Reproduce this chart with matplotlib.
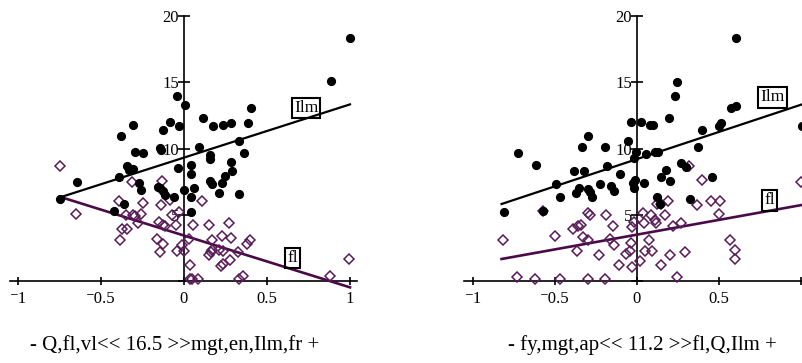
import matplotlib
matplotlib.use("Agg")
import matplotlib.pyplot as plt
from matplotlib.ticker import FixedLocator, FixedFormatter

plt.rcParams['font.family'] = ['Liberation Serif', 'DejaVu Serif']

# ---------------- data ----------------
x_ticks = [-1, -0.5, 0, 0.5, 1]
left_x_tick_labels = ["\u207b1", "\u207b0.5", "0", "0.5", "1"]
right_x_tick_labels = ["\u207b1", "\u207b0.5", "0", "0.5", ""]
y_ticks = [0, 5, 10, 15, 20]
y_tick_labels = ["", "5", "10", "15", "20"]

# Left panel
left_ilm_x = [-0.749, -0.646, -0.42, -0.382, -0.39, -0.362, -0.346, -0.334, -0.31, -0.31,
              -0.296, -0.272, -0.258, -0.248, -0.159, -0.145, -0.139, -0.125, -0.125, -0.113,
              -0.082, -0.062, -0.044, -0.036, -0.028, -0.002, 0.008, 0.042, 0.042, 0.042,
              0.042, 0.062, 0.089, 0.113, 0.159, 0.159, 0.159, 0.169, 0.177, 0.211,
              0.231, 0.237, 0.247, 0.282, 0.282, 0.292, 0.334, 0.334, 0.36, 0.388,
              0.406, 0.883, 0.998, -0.145]
left_ilm_y = [6.19, 7.45, 5.28, 10.97, 7.87, 5.79, 8.68, 8.38, 8.43, 11.75,
              9.76, 7.37, 6.87, 9.64, 7.12, 10.01, 9.91, 11.42, 6.82, 6.47,
              11.97, 6.34, 13.96, 8.55, 11.72, 6.87, 13.26, 8.73, 8.08, 6.31,
              5.21, 6.99, 10.09, 12.28, 9.51, 9.18, 7.55, 7.35, 11.72, 6.67,
              7.37, 11.75, 7.92, 8.96, 11.95, 8.33, 10.54, 6.57, 9.64, 11.95,
              13.06, 15.07, 18.37, 7.0]
left_fl_x = [-0.749, -0.65, -0.392, -0.384, -0.372, -0.346, -0.35, -0.316, -0.306, -0.294,
             -0.28, -0.26, -0.249, -0.163, -0.149, -0.145, -0.139, -0.131, -0.125, -0.125,
             -0.113, -0.085, -0.07, -0.05, -0.044, -0.032, -0.01, 0.002, 0.032, 0.036,
             0.036, 0.046, 0.056, 0.082, 0.109, 0.151, 0.151, 0.161, 0.171, 0.169,
             0.209, 0.229, 0.225, 0.237, 0.233, 0.274, 0.278, 0.286, 0.326, 0.33,
             0.358, 0.38, 0.398, 0.877, 0.994]
left_fl_y = [8.70, 5.08, 6.04, 3.12, 3.95, 3.92, 4.98, 7.50, 4.98, 4.91,
             4.38, 5.08, 5.86, 3.14, 4.48, 2.21, 5.74, 7.55, 2.79, 4.20,
             4.18, 6.11, 4.98, 4.20, 2.26, 5.18, 2.74, 2.29, 3.14, 1.21,
             0.13, 0.13, 4.20, 0.13, 6.06, 4.20, 1.96, 2.21, 3.09, 2.36,
             2.34, 3.42, 1.11, 1.26, 2.29, 4.40, 1.61, 3.27, 2.16, 0.13,
             0.35, 2.82, 3.09, 0.35, 1.66]
left_ilm_line_x = [-0.75, 1.0]
left_ilm_line_y = [6.3, 13.33]
left_fl_line_x = [-0.749, 1.0]
left_fl_line_y = [6.36, -0.48]
left_caption = "- Q,fl,vl<< 16.5 >>mgt,en,Ilm,fr +"

# Right panel
right_ilm_x = [-0.813, -0.724, -0.617, -0.576, -0.495, -0.467, -0.387, -0.369, -0.353, -0.333,
               -0.325, -0.298, -0.296, -0.288, -0.272, -0.227, -0.193, -0.183, -0.156, -0.14,
               -0.103, -0.057, -0.034, -0.024, -0.02, -0.018, -0.014, -0.004, 0.024, 0.041,
               0.057, 0.077, 0.097, 0.108, 0.122, 0.128, 0.138, 0.148, 0.174, 0.193,
               0.203, 0.231, 0.243, 0.27, 0.296, 0.325, 0.371, 0.398, 0.458, 0.503,
               0.515, 0.574, 0.602, 0.602, 1.006]
right_ilm_y = [5.21, 9.64, 8.75, 5.28, 7.32, 6.31, 8.30, 6.62, 6.99, 10.09,
               8.30, 10.97, 6.92, 6.74, 6.31, 7.32, 10.09, 8.70, 7.17, 6.82,
               8.08, 10.57, 11.97, 7.37, 6.99, 9.31, 7.62, 9.76, 11.97, 7.42,
               9.56, 11.77, 11.77, 9.76, 6.36, 9.76, 5.81, 7.87, 8.38, 12.28,
               7.55, 13.96, 15.04, 8.93, 8.63, 6.21, 10.09, 11.40, 7.87, 11.70,
               11.95, 13.03, 13.21, 18.37, 11.70]
right_fl_x = [-0.817, -0.730, -0.623, -0.576, -0.499, -0.469, -0.391, -0.363, -0.357, -0.339,
              -0.33, -0.298, -0.296, -0.284, -0.298, -0.231, -0.193, -0.187, -0.164, -0.144,
              -0.14, -0.11, -0.065, -0.045, -0.039, -0.028, -0.032, -0.018, 0.020, 0.037,
              0.041, 0.051, 0.073, 0.091, 0.087, 0.108, 0.118, 0.124, 0.144, 0.148,
              0.170, 0.191, 0.199, 0.219, 0.241, 0.270, 0.294, 0.320, 0.367, 0.394,
              0.454, 0.503, 0.509, 0.57, 0.6, 0.598, 1.0]
right_fl_y = [3.09, 0.33, 0.13, 5.31, 3.40, 0.13, 3.95, 2.29, 4.18, 4.20,
              3.30, 3.09, 5.11, 4.96, 0.13, 1.96, 0.13, 4.96, 3.14, 4.15,
              2.72, 1.21, 2.04, 2.29, 2.89, 1.06, 4.10, 4.48, 1.53, 5.16,
              4.40, 2.29, 3.09, 2.29, 4.98, 4.60, 4.40, 5.81, 1.21, 5.81,
              4.98, 6.01, 1.96, 4.15, 0.33, 4.40, 2.21, 8.70, 5.74, 7.60,
              6.06, 5.08, 6.06, 3.09, 2.34, 1.64, 7.50]
right_ilm_line_x = [-0.826, 1.006]
right_ilm_line_y = [5.81, 13.33]
right_fl_line_x = [-0.826, 1.006]
right_fl_line_y = [1.66, 5.74]
right_caption = "- fy,mgt,ap<< 11.2 >>fl,Q,Ilm +"

series_labels = ["Ilm", "fl"]

# ---------------- style ----------------
W, H = 803, 363
PURPLE_PT = "#5a1a5a"
PURPLE_LN = "#4a0a48"

fig = plt.figure(figsize=(W / 100, H / 100), dpi=100)
fig.patch.set_facecolor("white")


def make_axes(left_px, right_px, x0_px, px_per_unit, xlabels, ilm_x, ilm_y, fl_x, fl_y,
              ilm_lx, ilm_ly, fl_lx, fl_ly, lab_pos):
    top_px, bot_px = 12, 290
    y0_px, ppu_y = 281, 13.25
    ax = fig.add_axes([left_px / W, (H - bot_px) / H, (right_px - left_px) / W,
                       (bot_px - top_px) / H])
    ax.set_xlim((left_px - x0_px) / px_per_unit, (right_px - x0_px) / px_per_unit)
    ax.set_ylim((y0_px - bot_px) / ppu_y, (y0_px - top_px) / ppu_y)
    ax.patch.set_alpha(0)
    for s in ("top", "right"):
        ax.spines[s].set_visible(False)
    ax.spines["left"].set_position(("data", 0))
    ax.spines["bottom"].set_position(("data", 0))
    ax.spines["left"].set_bounds(0, 20)
    for s in ("left", "bottom"):
        ax.spines[s].set_linewidth(1.2)
    ax.xaxis.set_major_locator(FixedLocator(x_ticks))
    ax.xaxis.set_major_formatter(FixedFormatter(xlabels))
    ax.yaxis.set_major_locator(FixedLocator(y_ticks))
    ax.yaxis.set_major_formatter(FixedFormatter(y_tick_labels))
    ax.tick_params(axis="x", direction="inout", length=6, width=1.2, pad=4,
                   labelsize=12)
    ax.tick_params(axis="y", direction="inout", length=9, width=1.2, pad=-1,
                   labelsize=12)

    ax.plot(ilm_lx, ilm_ly, color="black", lw=1.6, zorder=3)
    ax.plot(fl_lx, fl_ly, color=PURPLE_LN, lw=1.9, zorder=3)
    ax.plot(fl_x, fl_y, ls="none", marker="D", ms=5.2, mfc="none",
            mec=PURPLE_PT, mew=1.1, zorder=4)
    ax.plot(ilm_x, ilm_y, ls="none", marker="o", ms=5.6, mfc="black",
            mec="black", zorder=5)
    for lab, (lx, ly) in zip(series_labels, lab_pos):
        ax.text(lx, ly, lab, ha="center", va="center", fontsize=12.5, zorder=6,
                bbox=dict(boxstyle="square,pad=0.12", fc="none", ec="black", lw=1.5))
    return ax


make_axes(10, 357, 184, 166, left_x_tick_labels, left_ilm_x, left_ilm_y, left_fl_x, left_fl_y,
          left_ilm_line_x, left_ilm_line_y, left_fl_line_x, left_fl_line_y,
          [(0.735, 13.06), (0.654, 1.74)])
make_axes(464, 815, 637, 164, right_x_tick_labels, right_ilm_x, right_ilm_y, right_fl_x, right_fl_y,
          right_ilm_line_x, right_ilm_line_y, right_fl_line_x, right_fl_line_y,
          [(0.826, 13.85), (0.808, 6.08)])

fig.text(175 / W, 1 - 345 / H, left_caption, ha="center", va="center", fontsize=15)
fig.text(642 / W, 1 - 345 / H, right_caption, ha="center", va="center", fontsize=15)

fig.savefig("out.png", dpi=100, facecolor="white")
